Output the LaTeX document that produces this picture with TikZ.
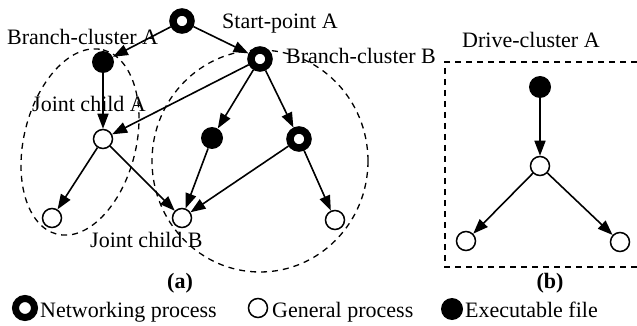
\documentclass[tikz,border=0pt]{standalone}
\usepackage{fontspec}
\setmainfont{Liberation Serif}
\usetikzlibrary{arrows.meta}
\begin{document}
\begin{tikzpicture}[x=1pt,y=-1pt,
 lbl/.style={anchor=base west,inner sep=0pt,font=\fontsize{22}{24}\selectfont},
 figcap/.style={anchor=base,inner sep=0pt,font=\fontsize{22}{24}\selectfont\bfseries},
 net/.style={circle,draw,line width=7.5pt,minimum size=18pt,inner sep=0pt,fill=white},
 gen/.style={circle,draw,line width=1.5pt,minimum size=19pt,inner sep=0pt,fill=white},
 exe/.style={circle,fill=black,minimum size=22pt,inner sep=0pt},
 arr/.style={line width=1.6pt,-{Triangle[length=15pt,width=11pt]}},
 clus/.style={line width=1.3pt,dash pattern=on 6pt off 5pt}]
\useasboundingbox (0,0) rectangle (637,326);
% clusters
\draw[clus, rotate around={76:(80,142)}] (80,142) ellipse [x radius=95, y radius=56];
\draw[clus] (260,161) ellipse [x radius=108, y radius=111];
\draw[clus] (637,62) -- (445,62) -- (445,267) -- (637,267);
% nodes (a)
\node[net] (s) at (182,21) {};
\node[exe] (ba) at (103,62) {};
\node[net] (bb) at (260,59) {};
\node[gen] (ja) at (103,139) {};
\node[exe] (em) at (212,138) {};
\node[net] (nr) at (299,139) {};
\node[gen] (bl) at (52,218) {};
\node[gen] (jb) at (182,218) {};
\node[gen] (br) at (335,220) {};
% nodes (b)
\node[exe] (de) at (540,87) {};
\node[gen] (dm) at (540,166) {};
\node[gen] (dl) at (466,241) {};
\node[gen] (dr) at (620,242) {};
% edges (a)
\draw[arr] (s) -- (ba);
\draw[arr] (s) -- (bb);
\draw[arr] (ba) -- (ja);
\draw[arr] (bb) -- (ja);
\draw[arr] (bb) -- (em);
\draw[arr] (bb) -- (nr);
\draw[arr] (ja) -- (bl);
\draw[arr] (ja) -- (jb);
\draw[arr] (em) -- (jb);
\draw[arr] (nr) -- (jb);
\draw[arr] (nr) -- (br);
% edges (b)
\draw[arr] (de) -- (dm);
\draw[arr] (dm) -- (dl);
\draw[arr] (dm) -- (dr);
% labels
\node[lbl] (tsa) at (222,29) {Start-point A};
\node[lbl] (tba) at (7,45) {Branch-cluster A};
\node[lbl] (tbb) at (286,64) {Branch-cluster B};
\node[lbl] (tja) at (32,112) {Joint child A};
\node[lbl] (tjb) at (90,247) {Joint child B};
\node[lbl] (tdc) at (462,48) {Drive-cluster A};
\node[figcap] (ca) at (180,288) {(a)};
\node[figcap] (cb) at (550,288) {(b)};
% legend
\node[net, line width=7pt, minimum size=19pt] (ln) at (25,308) {};
\node[lbl] (tln) at (40,317) {Networking process};
\node[gen] (lg) at (258,308) {};
\node[lbl] (tlg) at (272,317) {General process};
\node[exe] (le) at (452,309) {};
\node[lbl] (tle) at (465,317) {Executable file};
\end{tikzpicture}
\end{document}
